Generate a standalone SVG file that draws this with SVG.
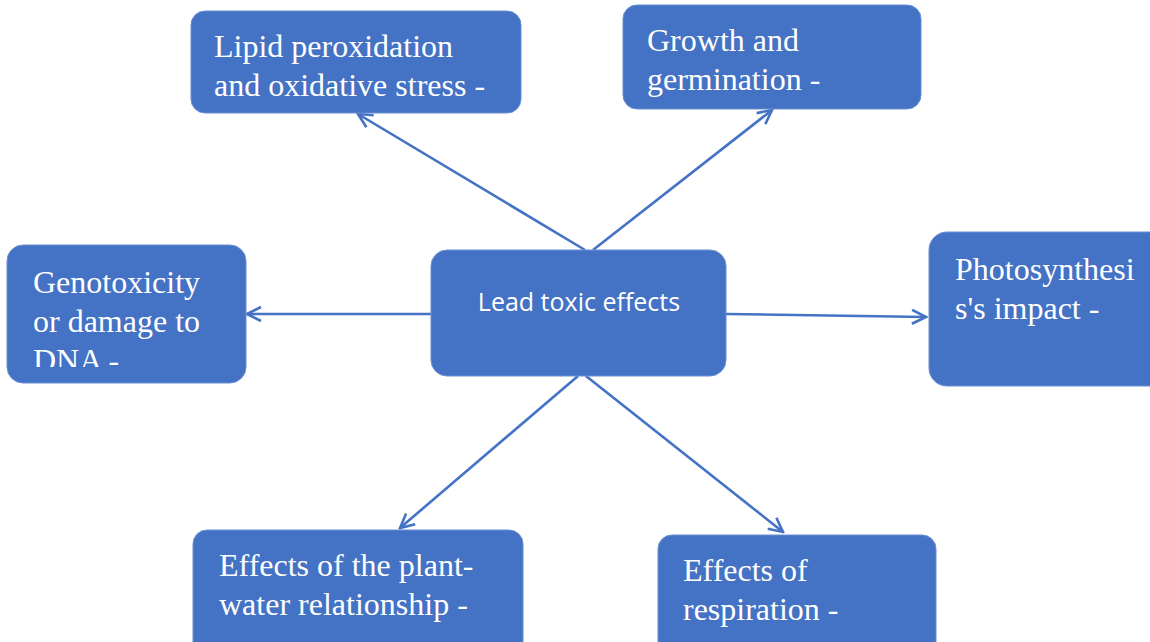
<svg xmlns="http://www.w3.org/2000/svg" width="1150" height="642" viewBox="0 0 1150 642">
<style>
.box{fill:#4472C4;stroke:#6A8FD3;stroke-width:1}
.t{font-family:"Liberation Serif","Times New Roman",serif;font-size:32px;fill:#ffffff}
.c{font-family:"Open Sans","Liberation Sans",sans-serif;font-size:25px;fill:#ffffff}
.ln{stroke:#4472C4;stroke-width:2.6;fill:none;marker-end:url(#ah)}
</style>
<defs>
<marker id="ah" viewBox="0 0 18 18" refX="16" refY="9" markerWidth="18" markerHeight="18" markerUnits="userSpaceOnUse" orient="auto">
<path d="M2,2 L16,9 L2,16" fill="none" stroke="#4472C4" stroke-width="2.6"/>
</marker>
<clipPath id="cg"><rect x="7" y="245" width="239" height="122"/></clipPath>
</defs>
<rect width="1150" height="642" fill="#ffffff"/>
<g id="connectors">
<line class="ln" x1="585" y1="250" x2="358" y2="114"/>
<line class="ln" x1="593" y1="250" x2="772" y2="110"/>
<line class="ln" x1="431" y1="314" x2="247" y2="314"/>
<line class="ln" x1="726" y1="314" x2="926" y2="317"/>
<line class="ln" x1="578" y1="376" x2="400" y2="528"/>
<line class="ln" x1="586" y1="376" x2="783" y2="532"/>
</g>
<g id="center">
<rect class="box" x="431" y="250" width="295" height="126" rx="16"/>
<text class="c" x="579" y="311" text-anchor="middle">Lead toxic effects</text>
</g>
<g id="lipid">
<rect class="box" x="191" y="11" width="330" height="102" rx="14"/>
<text class="t" x="214" y="57">Lipid peroxidation</text>
<text class="t" x="214" y="96">and oxidative stress -</text>
</g>
<g id="growth">
<rect class="box" x="623" y="5" width="298" height="104" rx="14"/>
<text class="t" x="647" y="51">Growth and</text>
<text class="t" x="647" y="90">germination -</text>
</g>
<g id="genotoxicity">
<rect class="box" x="7" y="245" width="239" height="138" rx="16"/>
<g clip-path="url(#cg)">
<text class="t" x="33" y="293">Genotoxicity</text>
<text class="t" x="33" y="332">or damage to</text>
<text class="t" x="33" y="371">DNA -</text>
</g>
</g>
<g id="photosynthesis">
<rect class="box" x="929" y="232" width="240" height="154" rx="18"/>
<text class="t" x="955" y="280">Photosynthesi</text>
<text class="t" x="955" y="319">s's impact -</text>
</g>
<g id="plantwater">
<rect class="box" x="193" y="530" width="330" height="130" rx="14"/>
<text class="t" x="219" y="576">Effects of the plant-</text>
<text class="t" x="219" y="615">water relationship -</text>
</g>
<g id="respiration">
<rect class="box" x="658" y="535" width="278" height="125" rx="14"/>
<text class="t" x="683" y="581">Effects of</text>
<text class="t" x="683" y="620">respiration -</text>
</g>
</svg>
